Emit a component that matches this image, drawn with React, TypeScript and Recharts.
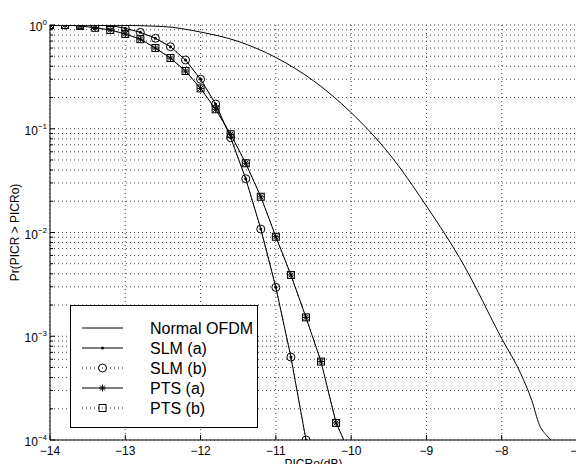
import React from "react";
import { LineChart, Line, XAxis, YAxis, CartesianGrid, Legend } from "recharts";

const FONT = '"Liberation Sans", Arial, Helvetica, sans-serif';

const X_TICKS = [-14, -13, -12, -11, -10, -9, -8, -7];
const Y_DECADES = [1e-4, 1e-3, 1e-2, 1e-1];
const Y_TICKS = [...Y_DECADES.flatMap((d) => [1, 2, 3, 4, 5, 6, 7, 8, 9].map((m) => m * d)), 1];

// Normal OFDM (no reduction)
const NORMAL_X = [-14, -13.5, -13, -12.5, -12, -11.5, -11, -10.5, -10, -9.5, -9, -8.5, -8, -7.75, -7.6, -7.5, -7.4, -7.35];
const NORMAL_P = [1, 0.997, 0.99, 0.967, 0.855, 0.695, 0.486, 0.29, 0.143, 0.058, 0.018, 0.0048, 0.00095, 0.00044, 0.00024, 0.00014, 0.00011, 0.0001];

// SLM, 0.2 dB steps
const SLM_X = [-14, -13.8, -13.6, -13.4, -13.2, -13, -12.8, -12.6, -12.4, -12.2, -12, -11.8, -11.6, -11.4, -11.2, -11, -10.8, -10.6];
const SLM_P = [1, 1, 1, 0.998, 0.989, 0.93, 0.85, 0.745, 0.618, 0.46, 0.3, 0.173, 0.082, 0.033, 0.0108, 0.00296, 0.00063, 0.0001];

// PTS, 0.2 dB steps
const PTS_X = [-14, -13.8, -13.6, -13.4, -13.2, -13, -12.8, -12.6, -12.4, -12.2, -12, -11.8, -11.6, -11.4, -11.2, -11, -10.8, -10.6, -10.4, -10.2, -10];
const PTS_P = [1, 1, 0.98, 0.94, 0.895, 0.82, 0.73, 0.6, 0.48, 0.36, 0.245, 0.154, 0.0885, 0.0465, 0.0221, 0.0091, 0.0039, 0.00152, 0.00057, 0.000146, 0.00007];

const rows = (xs: number[], ps: number[]) => xs.map((x, i) => ({ x, p: ps[i] }));
const normalRows = rows(NORMAL_X, NORMAL_P);
const slmRows = rows(SLM_X, SLM_P);
const ptsRows = rows(PTS_X, PTS_P);

type Marker = "none" | "dot" | "circle" | "star" | "square";

const LEGEND: { name: string; dash?: string; marker: Marker }[] = [
  { name: "Normal OFDM", marker: "none" },
  { name: "SLM (a)", marker: "dot" },
  { name: "SLM (b)", dash: "1 3", marker: "circle" },
  { name: "PTS (a)", marker: "star" },
  { name: "PTS (b)", dash: "1 3", marker: "square" },
];

function marker(kind: Marker, cx: number, cy: number, key?: React.Key) {
  if (cx == null || cy == null || kind === "none") return <g key={key} />;
  if (kind === "dot") return <circle key={key} cx={cx} cy={cy} r={1.5} fill="#000" />;
  if (kind === "circle") return <circle key={key} cx={cx} cy={cy} r={4} fill="none" stroke="#000" />;
  if (kind === "square")
    return <rect key={key} x={cx - 3.5} y={cy - 3.5} width={7} height={7} fill="none" stroke="#000" />;
  const s = 3.5;
  const d = 2.5;
  return (
    <g key={key} stroke="#000">
      <line x1={cx - s} x2={cx + s} y1={cy} y2={cy} />
      <line x1={cx} x2={cx} y1={cy - s} y2={cy + s} />
      <line x1={cx - d} x2={cx + d} y1={cy - d} y2={cy + d} />
      <line x1={cx - d} x2={cx + d} y1={cy + d} y2={cy - d} />
    </g>
  );
}

const dotOf = (kind: Marker) => (p: any) => marker(kind, p.cx, p.cy, p.index);

function YTick({ x, y, payload }: any) {
  const lg = Math.log10(payload.value);
  const e = Math.round(lg);
  const major = Math.abs(lg - e) < 1e-6;
  return (
    <g>
      <line x1={x} x2={x + (major ? 5 : 3)} y1={y} y2={y} stroke="#000" />
      {major && (
        <text x={x - 3} y={y + 6} textAnchor="end" fontSize={12} fontFamily={FONT} fill="#000">
          10
          <tspan dy={-6} fontSize={8}>
            {e === 0 ? "0" : "\u2212" + -e}
          </tspan>
        </text>
      )}
    </g>
  );
}

function XTick({ x, y, payload }: any) {
  const v = payload.value;
  return (
    <g>
      <line x1={x} x2={x} y1={y} y2={y - 5} stroke="#000" />
      <text x={x} y={y + 15} textAnchor="middle" fontSize={12} fontFamily={FONT} fill="#000">
        {v < 0 ? "\u2212" + Math.abs(v) : v}
      </text>
    </g>
  );
}

function TopTick({ x, y }: any) {
  return <line x1={x} x2={x} y1={y} y2={y + 5} stroke="#000" />;
}

function LegendBox() {
  return (
    <svg width={188} height={123} style={{ display: "block" }}>
      <rect x={0.5} y={0.5} width={187} height={122} fill="#fff" stroke="#000" />
      {LEGEND.map((e, i) => {
        const cy = 23 + i * 20;
        return (
          <g key={e.name}>
            <line x1={12} x2={53} y1={cy} y2={cy} stroke="#000" strokeDasharray={e.dash} />
            {marker(e.marker, 32.5, cy)}
            <text x={80} y={cy + 5.5} fontSize={16} fontFamily={FONT} fill="#000">
              {e.name}
            </text>
          </g>
        );
      })}
    </svg>
  );
}

export default function App() {
  return (
    <div style={{ position: "fixed", left: 0, top: 0, width: 576, height: 464, overflow: "hidden", background: "#fff" }}>
      <LineChart width={600} height={480} margin={{ top: 25, right: 23, bottom: 0, left: 0 }}>
        <CartesianGrid stroke="#444" strokeDasharray="1 3" />
        <XAxis
          dataKey="x"
          type="number"
          domain={[-14, -7]}
          ticks={X_TICKS}
          interval={0}
          tick={<XTick />}
          tickLine={false}
          tickSize={0}
          tickMargin={0}
          height={40}
          axisLine={{ stroke: "#000" }}
          allowDataOverflow
          label={{ value: "PICRo(dB)", position: "insideBottom", offset: 12, fontSize: 12, fill: "#000", fontFamily: FONT }}
        />
        <XAxis
          xAxisId="top"
          orientation="top"
          type="number"
          domain={[-14, -7]}
          ticks={X_TICKS}
          interval={0}
          tick={<TopTick />}
          tickLine={false}
          tickSize={0}
          tickMargin={0}
          height={0}
          axisLine={{ stroke: "#000" }}
        />
        <YAxis
          type="number"
          scale="log"
          domain={[1e-4, 1]}
          ticks={Y_TICKS}
          interval={0}
          tick={<YTick />}
          tickLine={false}
          tickSize={0}
          tickMargin={0}
          width={50}
          axisLine={{ stroke: "#000" }}
          allowDataOverflow
          label={{
            value: "Pr(PICR > PICRo)",
            angle: -90,
            position: "insideLeft",
            offset: 15,
            fontSize: 12,
            fill: "#000",
            fontFamily: FONT,
            style: { textAnchor: "middle" },
          }}
        />
        <Legend
          layout="horizontal"
          verticalAlign="middle"
          align="center"
          wrapperStyle={{ left: 70, top: 305, width: 188, height: 123 }}
          content={() => <LegendBox />}
        />
        <Line data={normalRows} dataKey="p" name="Normal OFDM" type="monotone" stroke="#000" strokeWidth={1} dot={false} isAnimationActive={false} />
        <Line data={slmRows} dataKey="p" name="SLM (a)" type="linear" stroke="#000" strokeWidth={1} dot={dotOf("dot")} isAnimationActive={false} />
        <Line data={slmRows} dataKey="p" name="SLM (b)" type="linear" stroke="#000" strokeWidth={1} strokeDasharray="1 3" dot={dotOf("circle")} isAnimationActive={false} />
        <Line data={ptsRows} dataKey="p" name="PTS (a)" type="linear" stroke="#000" strokeWidth={1} dot={dotOf("star")} isAnimationActive={false} />
        <Line data={ptsRows} dataKey="p" name="PTS (b)" type="linear" stroke="#000" strokeWidth={1} strokeDasharray="1 3" dot={dotOf("square")} isAnimationActive={false} />
      </LineChart>
    </div>
  );
}
